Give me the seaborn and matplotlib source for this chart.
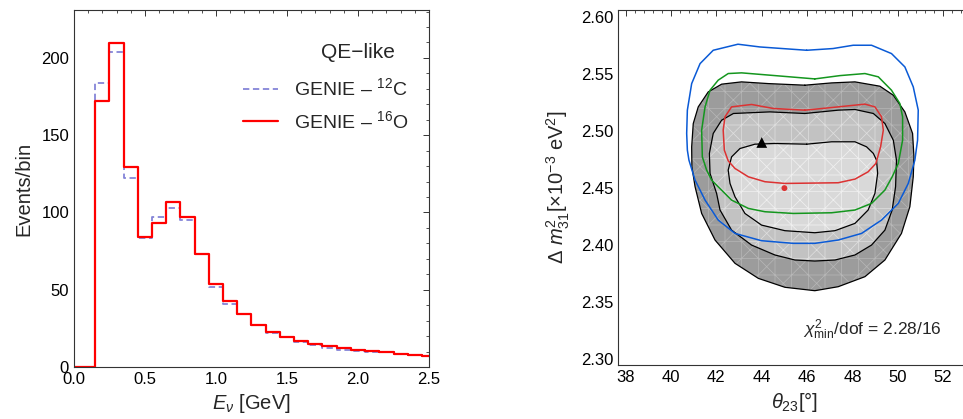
import numpy as np
import pandas as pd
import matplotlib
matplotlib.use("Agg")
import matplotlib.pyplot as plt
from matplotlib.ticker import MultipleLocator, FormatStrFormatter
import seaborn as sns

# --- datos: histograma QE-like ---
bin_edges = [0.0, 0.15, 0.25, 0.35, 0.45, 0.55, 0.65, 0.75, 0.85, 0.95, 1.05,
             1.15, 1.25, 1.35, 1.45, 1.55, 1.65, 1.75, 1.85, 1.95, 2.05,
             2.15, 2.25, 2.35, 2.45, 2.55]
eventos_c12 = [0, 184, 204, 122, 83.5, 97, 103, 95, 73, 52, 40.5, 34.5, 27, 22,
               19.5, 16.2, 14, 12.5, 11.2, 10.6, 10, 9.4, 8.6, 8, 7.3]
eventos_o16 = [0, 172, 209.5, 129.5, 84, 93.5, 106.5, 97, 73, 54, 42.5, 34, 27.5,
               22.5, 19.5, 17, 15, 13.5, 12.3, 11.2, 10.1, 9.4, 8.6, 8, 7.3]

# --- datos: contornos (theta23 [deg], dm2 [1e-3 eV^2]) ---
outer_th = [45.90, 44.29, 43.11, 42.23, 41.64, 41.20, 40.98, 40.91, 40.92, 41.06, 41.35,
            41.94, 42.82, 43.85, 45.02, 46.34, 47.37, 48.55, 49.43, 50.16, 50.53,
            50.68, 50.71, 50.65, 50.31, 49.80, 49.21, 48.11, 47.08]
outer_dm = [2.5402, 2.5416, 2.5431, 2.5411, 2.5343, 2.5212, 2.5066, 2.4862, 2.4687, 2.4512, 2.4278,
            2.4045, 2.3841, 2.3709, 2.3631, 2.3601, 2.3636, 2.3724, 2.3870, 2.4103, 2.4337,
            2.4599, 2.4774, 2.4979, 2.5168, 2.5314, 2.5393, 2.5431, 2.5422]

mid_th = [45.90, 44.36, 42.75, 42.23, 41.86, 41.69, 41.72, 42.01, 42.16, 42.67, 43.55,
          44.58, 45.46, 46.34, 47.23, 48.11, 48.84, 49.43, 49.75, 49.90, 49.94,
          49.80, 49.43, 48.92, 48.11, 47.37]
mid_dm = [2.5154, 2.5168, 2.5154, 2.5095, 2.4979, 2.4804, 2.4629, 2.4453, 2.4308, 2.4132, 2.4001,
          2.3914, 2.3870, 2.3861, 2.3870, 2.3914, 2.4001, 2.4132, 2.4308, 2.4512, 2.4745,
          2.4920, 2.5066, 2.5154, 2.5189, 2.5183]

inner_th = [45.98, 44.58, 43.70, 43.04, 42.67, 42.52, 42.60, 42.82, 43.26, 43.99, 45.02,
            46.34, 47.23, 48.11, 48.69, 48.99, 49.11, 49.06, 48.92, 48.62, 48.11, 47.08]
inner_dm = [2.4885, 2.4891, 2.4885, 2.4847, 2.4774, 2.4658, 2.4541, 2.4424, 2.4278, 2.4176, 2.4127,
            2.4109, 2.4127, 2.4191, 2.4308, 2.4454, 2.4629, 2.4745, 2.4804, 2.4862, 2.4906, 2.4906]

blue_th = [45.98, 43.92, 42.95, 41.86, 41.28, 40.91, 40.72, 40.69, 40.72, 40.79, 41.06,
           41.50, 42.08, 42.82, 43.99, 45.39, 46.34, 47.37, 48.40, 49.28, 50.02,
           50.46, 50.75, 50.87, 50.90, 50.68, 50.31, 49.72, 48.84, 48.03, 47.14]
blue_dm = [2.5708, 2.5737, 2.5761, 2.5708, 2.5591, 2.5416, 2.5183, 2.4979, 2.4833, 2.4745, 2.4570,
           2.4395, 2.4220, 2.4103, 2.4039, 2.4016, 2.4016, 2.4045, 2.4103, 2.4220, 2.4366,
           2.4541, 2.4745, 2.4920, 2.5183, 2.5387, 2.5562, 2.5679, 2.5752, 2.5752, 2.5723]

green_th = [46.34, 44.58, 43.11, 42.52, 42.08, 41.72, 41.50, 41.35, 41.38, 41.57, 41.79,
            42.08, 42.67, 43.41, 44.14, 45.39, 47.08, 48.11, 48.84, 49.43, 49.75,
            50.02, 50.21, 50.21, 50.09, 49.72, 49.14, 48.55, 47.45]
green_dm = [2.5457, 2.5486, 2.5510, 2.5504, 2.5446, 2.5358, 2.5212, 2.5008, 2.4774, 2.4658, 2.4570,
            2.4512, 2.4395, 2.4322, 2.4293, 2.4278, 2.4284, 2.4308, 2.4366, 2.4483, 2.4599,
            2.4716, 2.4920, 2.5125, 2.5241, 2.5358, 2.5475, 2.5504, 2.5486]

red_th = [45.90, 44.51, 43.55, 42.67, 42.38, 42.30, 42.35, 42.52, 42.82, 43.41, 44.14,
          45.02, 47.37, 48.11, 48.69, 49.03, 49.24, 49.36, 49.28, 48.99, 48.55, 47.08]
red_dm = [2.5183, 2.5198, 2.5233, 2.5212, 2.5125, 2.5008, 2.4833, 2.4739, 2.4672, 2.4599, 2.4556,
          2.4541, 2.4547, 2.4579, 2.4643, 2.4716, 2.4862, 2.5008, 2.5125, 2.5212, 2.5236, 2.5206]

best_fit_th = [44.0]
best_fit_dm = [2.49]
true_th = [45.0]
true_dm = [2.45]

sns.set_theme(style="white")
plt.rcParams['font.family'] = ['Liberation Sans', 'DejaVu Sans']
plt.rcParams['mathtext.fontset'] = 'custom'
plt.rcParams['mathtext.rm'] = 'Liberation Sans'
plt.rcParams['mathtext.it'] = 'Liberation Sans:italic'
plt.rcParams['mathtext.bf'] = 'Liberation Sans:bold'
plt.rcParams['hatch.linewidth'] = 0.5


def estilo_ejes(ax):
    for s in ax.spines.values():
        s.set_color("#333333")
        s.set_linewidth(0.8)
    ax.tick_params(which="both", direction="in", top=True, right=True,
                   colors="#333333", labelcolor="black", labelsize=12)
    ax.tick_params(which="major", length=4, width=0.7)
    ax.tick_params(which="minor", length=2.2, width=0.6)


fig = plt.figure(figsize=(9.63, 4.19), dpi=100)

# --- panel izquierdo ---
ax1 = fig.add_axes([0.0768, 0.1241, 0.3687, 0.852])
centros = [(a + b) / 2 for a, b in zip(bin_edges[:-1], bin_edges[1:])]
df_hist = pd.DataFrame({"Ev": centros, "C12": eventos_c12, "O16": eventos_o16})

sns.histplot(data=df_hist, x="Ev", weights="C12", bins=bin_edges, element="step",
             fill=False, color="#8585d8", linewidth=1.3, linestyle=(0, (3.5, 2)),
             ax=ax1, label="GENIE – $^{12}$C")
sns.histplot(data=df_hist, x="Ev", weights="O16", bins=bin_edges, element="step",
             fill=False, color="#ff0000", linewidth=1.6, ax=ax1,
             label="GENIE – $^{16}$O")

ax1.set_xlim(0, 2.5)
ax1.set_ylim(0, 231)
ax1.xaxis.set_major_locator(MultipleLocator(0.5))
ax1.xaxis.set_minor_locator(MultipleLocator(0.1))
ax1.yaxis.set_major_locator(MultipleLocator(50))
ax1.yaxis.set_minor_locator(MultipleLocator(10))
ax1.xaxis.set_major_formatter(FormatStrFormatter("%.1f"))
ax1.set_xlabel(r"$E_\nu$ [GeV]", fontsize=14.5, labelpad=4)
ax1.set_ylabel("Events/bin", fontsize=14.5, labelpad=6)
estilo_ejes(ax1)

ax1.text(0.80, 0.88, "QE−like", transform=ax1.transAxes, fontsize=15,
         ha="center", va="center")
ax1.legend(loc="upper right", bbox_to_anchor=(0.99, 0.86), frameon=False,
           fontsize=14, handlelength=1.8, handletextpad=0.8, labelspacing=0.55)

# --- panel derecho ---
ax2 = fig.add_axes([0.6417, 0.1289, 0.366, 0.847])

capas = [(outer_th, outer_dm, "#9c9c9c"),
         (mid_th, mid_dm, "#c2c2c2"),
         (inner_th, inner_dm, "#d9d9d9")]
for th, dm, col in capas:
    ax2.fill(th, dm, facecolor=col, edgecolor="none", zorder=1)
    ax2.fill(th, dm, facecolor="none", edgecolor=(1, 1, 1, 0.28), hatch="x+",
             linewidth=0, zorder=1.5)
    cerrado = pd.DataFrame({"th": th + th[:1], "dm": dm + dm[:1]})
    sns.lineplot(data=cerrado, x="th", y="dm", sort=False, estimator=None,
                 color="black", linewidth=0.9, ax=ax2, zorder=3)

for th, dm, col in [(blue_th, blue_dm, "#0a5ad6"),
                    (green_th, green_dm, "#14961e"),
                    (red_th, red_dm, "#dc3232")]:
    cerrado = pd.DataFrame({"th": th + th[:1], "dm": dm + dm[:1]})
    sns.lineplot(data=cerrado, x="th", y="dm", sort=False, estimator=None,
                 color=col, linewidth=1.1, ax=ax2, zorder=4)

sns.scatterplot(x=best_fit_th, y=best_fit_dm, marker="^", s=60, color="black",
                edgecolor="none", ax=ax2, zorder=5)
sns.scatterplot(x=true_th, y=true_dm, marker="o", s=18, color="#dc3232",
                edgecolor="none", ax=ax2, zorder=5)

ax2.text(51.93, 2.3213, r"$\chi^2_{\rm min}$/dof = 2.28/16", fontsize=12.5,
         ha="right", va="baseline")

ax2.set_xlim(37.66, 53.2)
ax2.set_ylim(2.295, 2.606)
ax2.xaxis.set_major_locator(MultipleLocator(2))
ax2.xaxis.set_minor_locator(MultipleLocator(0.4))
ax2.yaxis.set_major_locator(MultipleLocator(0.05))
ax2.yaxis.set_minor_locator(MultipleLocator(0.01))
ax2.yaxis.set_major_formatter(FormatStrFormatter("%.2f"))
ax2.set_xlabel(r"$\theta_{23}[°]$", fontsize=14.5, labelpad=4)
ax2.set_ylabel(r"$\Delta\ m^2_{31}[\times10^{-3}\ \mathrm{eV}^2]$", fontsize=14.5, labelpad=6)
estilo_ejes(ax2)

fig.savefig("out.png", dpi=100)
